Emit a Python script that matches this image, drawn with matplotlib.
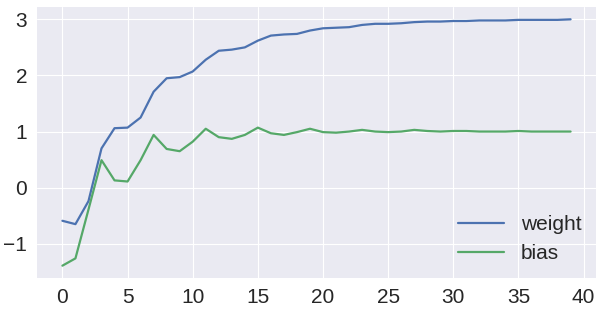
import matplotlib
matplotlib.use("Agg")
import matplotlib.pyplot as plt
import seaborn as sns

# valores
steps = list(range(40))
weight = [-0.59, -0.65, -0.24, 0.70, 1.06, 1.07, 1.25, 1.71, 1.95, 1.97,
          2.07, 2.28, 2.44, 2.46, 2.50, 2.62, 2.71, 2.73, 2.74, 2.80,
          2.84, 2.85, 2.86, 2.90, 2.92, 2.92, 2.93, 2.95, 2.96, 2.96,
          2.97, 2.97, 2.98, 2.98, 2.98, 2.99, 2.99, 2.99, 2.99, 3.00]
bias = [-1.39, -1.26, -0.39, 0.49, 0.13, 0.11, 0.49, 0.94, 0.69, 0.65,
        0.82, 1.05, 0.90, 0.87, 0.94, 1.07, 0.97, 0.94, 0.99, 1.05,
        0.99, 0.98, 1.00, 1.03, 1.00, 0.99, 1.00, 1.03, 1.01, 1.00,
        1.01, 1.01, 1.00, 1.00, 1.00, 1.01, 1.00, 1.00, 1.00, 1.00]

sns.set_style("darkgrid")
plt.rcParams['font.family'] = ['Liberation Sans', 'DejaVu Sans']

fig = plt.figure(figsize=(6.02, 3.12), dpi=100)
ax = fig.add_axes([37 / 602, 34 / 312, 559 / 602, 271 / 312])

ax.plot(steps, weight, color='#4C72B0', linewidth=1.6, label='weight')
ax.plot(steps, bias, color='#55A868', linewidth=1.6, label='bias')

ax.set_xticks([0, 5, 10, 15, 20, 25, 30, 35, 40])
ax.set_yticks([-1, 0, 1, 2, 3])
ax.tick_params(labelsize=15, colors='.15', length=0, pad=7)
for s in ax.spines.values():
    s.set_visible(False)

# leyenda abajo a la derecha, sin marco
ax.legend(loc='lower right', frameon=False, fontsize=15, handlelength=2.2,
          labelcolor='.15', borderaxespad=0.3)

fig.savefig("out.png", dpi=100)
